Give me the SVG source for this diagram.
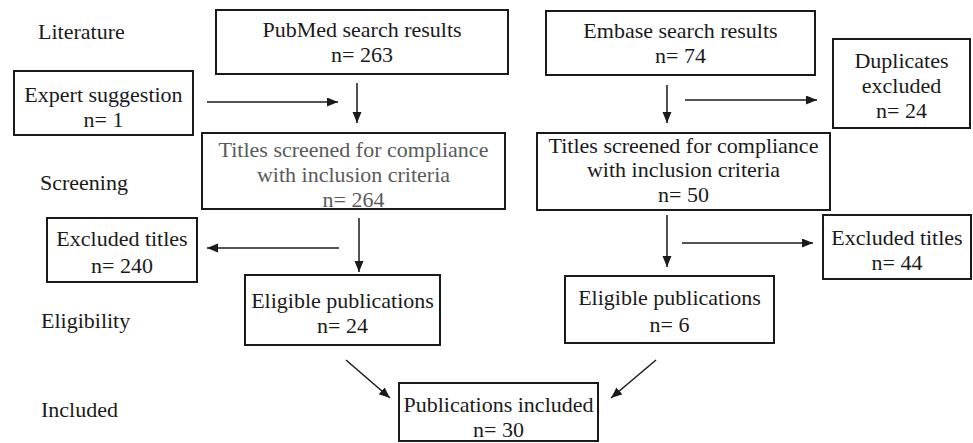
<svg xmlns="http://www.w3.org/2000/svg" width="973" height="443" viewBox="0 0 973 443">
<style>
text{font-family:"Liberation Serif","Times New Roman",serif;font-size:22px;fill:#1a1a1a}
.c{text-anchor:middle}
.g{fill:#5a5a5a}
.box{fill:#fff;stroke:#1a1a1a;stroke-width:2}
.con{stroke:#1a1a1a;stroke-width:1.5;fill:none;marker-end:url(#ah)}
</style>
<defs>
<marker id="ah" markerUnits="userSpaceOnUse" markerWidth="12" markerHeight="10" refX="11" refY="4.5" orient="auto">
<path d="M0,0 L11,4.5 L0,9 z" fill="#1a1a1a"/>
</marker>
</defs>
<rect width="973" height="443" fill="#fff"/>
<g id="stages">
<text x="38" y="39">Literature</text>
<text x="40" y="190">Screening</text>
<text x="41" y="328">Eligibility</text>
<text x="41" y="417">Included</text>
</g>
<g id="connectors">
<line class="con" x1="207" y1="102" x2="338" y2="102"/>
<line class="con" x1="357" y1="83" x2="357" y2="123"/>
<line class="con" x1="667" y1="85" x2="667" y2="123"/>
<line class="con" x1="685" y1="100" x2="817" y2="100"/>
<line class="con" x1="359" y1="218" x2="359" y2="272"/>
<line class="con" x1="339" y1="248" x2="207" y2="248"/>
<line class="con" x1="667" y1="215" x2="667" y2="267"/>
<line class="con" x1="682" y1="243" x2="813" y2="243"/>
<line class="con" x1="346" y1="360" x2="390" y2="398"/>
<line class="con" x1="656" y1="360" x2="611" y2="398"/>
</g>
<g id="pubmed">
<rect class="box" x="216" y="10" width="292" height="64"/>
<text class="c" x="362" y="37">PubMed search results</text>
<text class="c" x="362" y="62">n= 263</text>
</g>
<g id="embase">
<rect class="box" x="546" y="11" width="269" height="64"/>
<text class="c" x="680.5" y="38">Embase search results</text>
<text class="c" x="680.5" y="63">n= 74</text>
</g>
<g id="expert">
<rect class="box" x="14" y="71" width="179" height="64"/>
<text class="c" x="103.5" y="102">Expert suggestion</text>
<text class="c" x="103.5" y="127">n= 1</text>
</g>
<g id="duplicates">
<rect class="box" x="833" y="39" width="137" height="89"/>
<text class="c" x="901.5" y="68">Duplicates</text>
<text class="c" x="901.5" y="93">excluded</text>
<text class="c" x="901.5" y="118">n= 24</text>
</g>
<g id="titles1">
<rect class="box" x="202" y="133" width="303" height="76"/>
<text class="c g" x="353.5" y="157">Titles screened for compliance</text>
<text class="c g" x="353.5" y="182">with inclusion criteria</text>
<text class="c g" x="353.5" y="207">n= 264</text>
</g>
<g id="titles2">
<rect class="box" x="537" y="133" width="293" height="77"/>
<text class="c" x="683.5" y="153">Titles screened for compliance</text>
<text class="c" x="683.5" y="177">with inclusion criteria</text>
<text class="c" x="683.5" y="202">n= 50</text>
</g>
<g id="excluded1">
<rect class="box" x="47" y="218" width="150" height="64"/>
<text class="c" x="122" y="246">Excluded titles</text>
<text class="c" x="122" y="273">n= 240</text>
</g>
<g id="excluded2">
<rect class="box" x="823" y="215" width="148" height="64"/>
<text class="c" x="897" y="245">Excluded titles</text>
<text class="c" x="897" y="270">n= 44</text>
</g>
<g id="eligible1">
<rect class="box" x="245" y="275" width="195" height="70"/>
<text class="c" x="342.5" y="308">Eligible publications</text>
<text class="c" x="342.5" y="333">n= 24</text>
</g>
<g id="eligible2">
<rect class="box" x="565" y="276" width="209" height="67"/>
<text class="c" x="669.5" y="305">Eligible publications</text>
<text class="c" x="669.5" y="332">n= 6</text>
</g>
<g id="included">
<rect class="box" x="399" y="383" width="199" height="58"/>
<text class="c" x="498.5" y="412">Publications included</text>
<text class="c" x="498.5" y="437">n= 30</text>
</g>
</svg>
